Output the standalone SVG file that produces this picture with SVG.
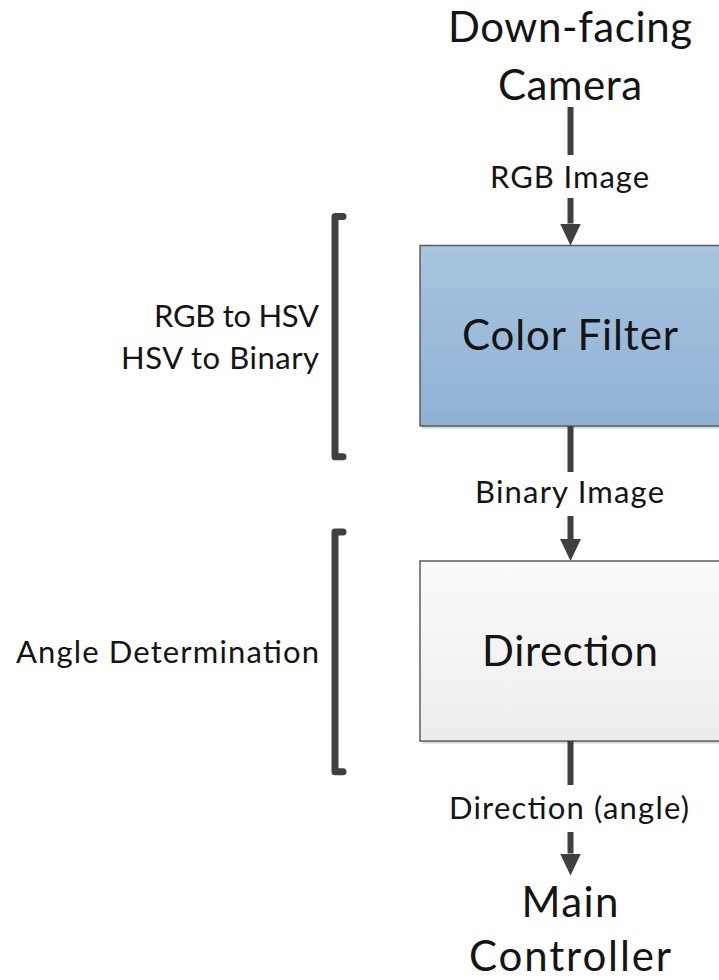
<svg xmlns="http://www.w3.org/2000/svg" width="719" height="980" viewBox="0 0 719 980">
  <style>
    .t { font-family: Lato, "Open Sans", "Liberation Sans", sans-serif; fill: #141414; text-anchor: middle; }
    .big { font-size: 42px; }
    .small { font-size: 31px; }
    .side { text-anchor: end; }
    .wire { fill: none; stroke: #404040; stroke-width: 6; }
    .brace { fill: none; stroke: #404040; stroke-width: 7; stroke-linecap: round; stroke-linejoin: round; }
    .box { stroke: #5e5e5e; stroke-width: 1.5; }
    .shade { fill: #d4d4d4; }
  </style>
  <defs>
    <linearGradient id="blueFill" x1="0" y1="0" x2="0" y2="1">
      <stop offset="0" stop-color="#a8c4de"/>
      <stop offset="1" stop-color="#8eb2d6"/>
    </linearGradient>
    <linearGradient id="greyFill" x1="0" y1="0" x2="0" y2="1">
      <stop offset="0" stop-color="#fbfbfb"/>
      <stop offset="1" stop-color="#ededed"/>
    </linearGradient>
    <marker id="head" markerUnits="userSpaceOnUse" markerWidth="24" markerHeight="24" viewBox="0 -12 24 24" refX="0" refY="0" orient="auto">
      <path d="M0 -10.5 L22 0 L0 10.5 Z" fill="#404040"/>
    </marker>
  </defs>

  <rect width="719" height="980" fill="#ffffff"/>

  <!-- source and sink labels -->
  <g id="camera">
    <text class="t big" x="570" y="41.5" textLength="244">Down-facing</text>
    <text class="t big" x="570" y="100" textLength="144">Camera</text>
  </g>

  <g id="color-filter">
    <rect class="shade" x="422" y="248" width="300" height="180.5"/>
    <rect class="box" x="420" y="245.5" width="300" height="180.5" fill="url(#blueFill)"/>
    <text class="t big" x="570" y="350" textLength="216">Color Filter</text>
  </g>

  <g id="direction">
    <rect class="shade" x="422" y="563.5" width="300" height="180"/>
    <rect class="box" x="420" y="561" width="300" height="180" fill="url(#greyFill)"/>
    <text class="t big" x="570" y="665.5" textLength="176">Direction</text>
  </g>

  <g id="main-controller">
    <text class="t big" x="570" y="917" textLength="97">Main</text>
    <text class="t big" x="570" y="971" textLength="202">Controller</text>
  </g>

  <!-- stage annotations with brackets -->
  <g id="filter-steps">
    <path class="brace" d="M343 216.5 H335 V456.7 H343"/>
    <text class="t small side" x="319" y="327" textLength="165">RGB to HSV</text>
    <text class="t small side" x="319" y="369" textLength="198">HSV to Binary</text>
  </g>

  <g id="direction-steps">
    <path class="brace" d="M343 532 H335 V771.7 H343"/>
    <text class="t small side" x="319" y="663" textLength="303">Angle Determination</text>
  </g>

  <!-- connectors -->
  <g id="connectors">
    <path class="wire" d="M570.5 107 V155 M570.5 198 V223.5" marker-end="url(#head)"/>
    <text class="t small" x="569.5" y="188" textLength="159">RGB Image</text>

    <path class="wire" d="M570.5 426 V472 M570.5 516 V539" marker-end="url(#head)"/>
    <text class="t small" x="569.5" y="503" textLength="189">Binary Image</text>

    <path class="wire" d="M570.5 741 V785 M570.5 832 V853.5" marker-end="url(#head)"/>
    <text class="t small" x="569" y="819" textLength="240">Direction (angle)</text>
  </g>
</svg>
